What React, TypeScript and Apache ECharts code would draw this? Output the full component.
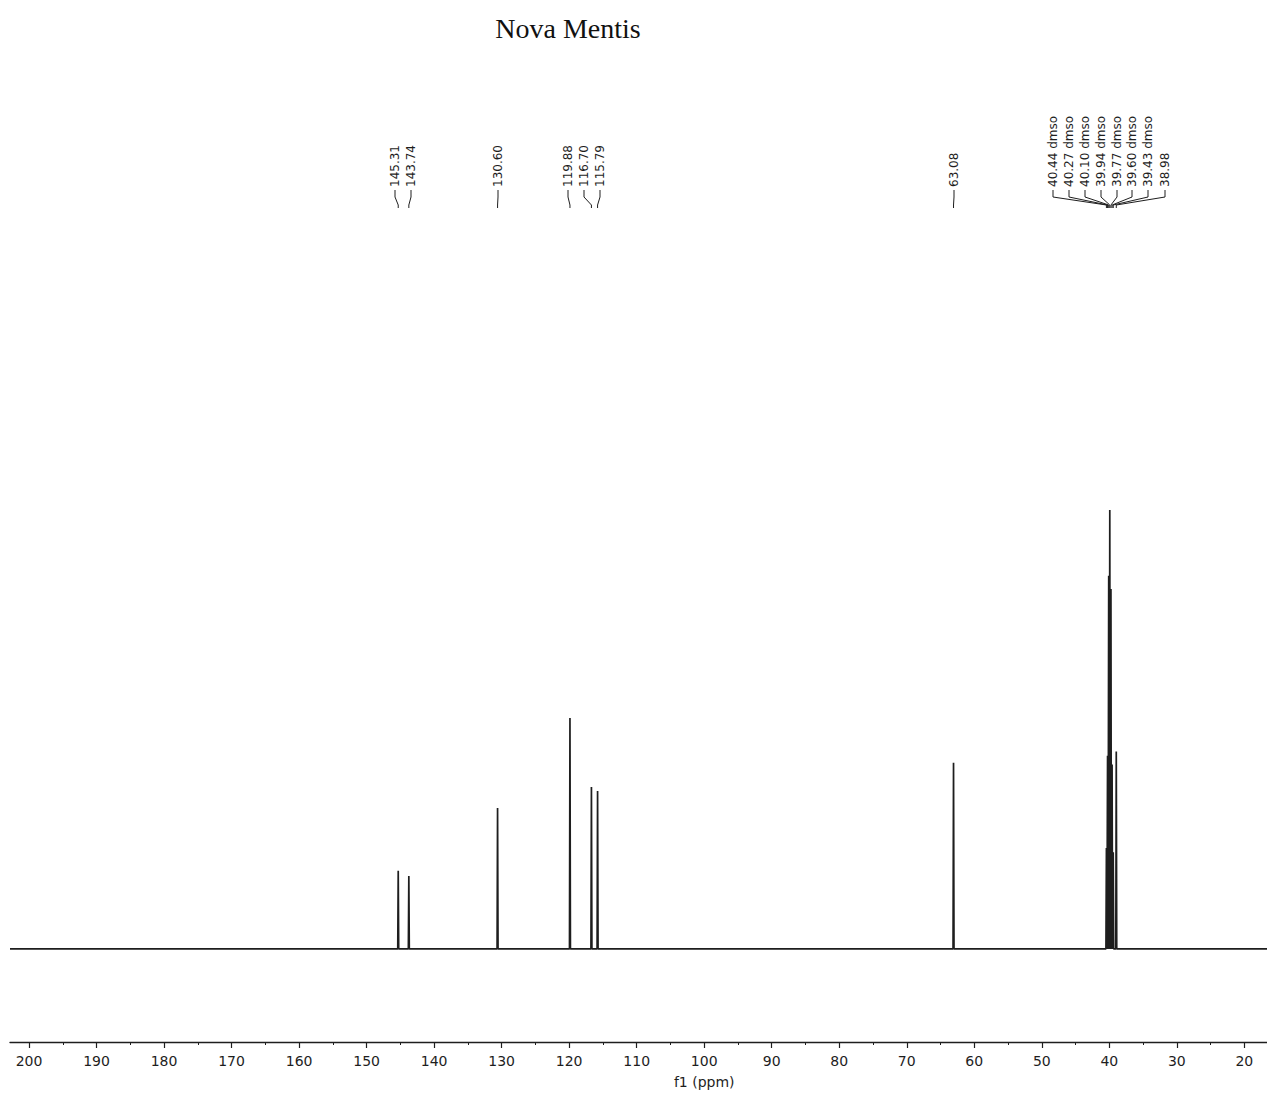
import React, { useEffect, useRef } from "react";
import * as echarts from "echarts";

// ---- data ----
const title = "Nova Mentis";
const axisName = "f1 (ppm)";
const peakShifts = [145.31, 143.74, 130.6, 119.88, 116.7, 115.79, 63.08, 40.44, 40.27, 40.1, 39.94, 39.77, 39.6, 39.43, 38.98];
const peakHeights = [17.8, 16.6, 32.1, 52.6, 36.9, 36.0, 42.4, 23, 44, 85, 100, 82, 42, 22, 45];
const peakLabels = [
  "145.31", "143.74", "130.60", "119.88", "116.70", "115.79", "63.08",
  "40.44 dmso", "40.27 dmso", "40.10 dmso", "39.94 dmso", "39.77 dmso", "39.60 dmso", "39.43 dmso", "38.98",
];
const spectrumRange = [202.8, 16.66]; // ppm span of the recorded trace
const axisMin = 20;
const axisMax = 200;
const axisInterval = 10;

// ---- layout (pixels) ----
const labelX = [395, 411, 498, 568, 584, 600, 954, 1053, 1069, 1085, 1101, 1117, 1132, 1148, 1165];
const W = 1267;
const H = 1098;
const peakHalfWidth = 0.07;

function buildSpectrum(): number[][] {
  const pts: number[][] = [[spectrumRange[0], 0]];
  const order = peakShifts.map((p, i) => i).sort((a, b) => peakShifts[b] - peakShifts[a]);
  for (const i of order) {
    const p = peakShifts[i];
    pts.push([p + peakHalfWidth, 0]);
    pts.push([p, peakHeights[i]]);
    pts.push([p - peakHalfWidth, 0]);
  }
  pts.push([spectrumRange[1], 0]);
  return pts;
}

export default function App() {
  const ref = useRef<HTMLDivElement>(null);
  useEffect(() => {
    if (!ref.current) return;
    const chart = echarts.init(ref.current, undefined, { renderer: "svg" });
    const ink = "#1e1e1e";
    const yCommon = { type: "value", min: -21.2, max: 202.5, show: false, splitLine: { show: false } };
    chart.setOption({
      animation: false,
      backgroundColor: "#ffffff",
      grid: [
        { left: 29, right: 22.64, top: 60, bottom: H - 1042 },
        { left: 10, right: 0, top: 60, bottom: H - 1042 },
      ],
      xAxis: [
        {
          type: "value",
          gridIndex: 0,
          inverse: true,
          min: axisMin,
          max: axisMax,
          interval: axisInterval,
          splitLine: { show: false },
          axisLine: { show: false, onZero: false },
          axisTick: { show: true, length: 6, lineStyle: { color: ink, width: 1.2 } },
          minorTick: { show: true, splitNumber: 2, length: 3, lineStyle: { color: ink, width: 1 } },
          minorSplitLine: { show: false },
          axisLabel: {
            margin: 12,
            fontFamily: "DejaVu Sans",
            fontSize: 14,
            color: ink,
          },
        },
        {
          type: "value",
          gridIndex: 1,
          inverse: true,
          min: spectrumRange[1],
          max: spectrumRange[0],
          splitLine: { show: false },
          axisLine: { show: true, onZero: false, lineStyle: { color: ink, width: 1.4 } },
          axisTick: { show: false },
          axisLabel: { show: false },
        },
      ],
      yAxis: [
        { ...yCommon, gridIndex: 0 },
        { ...yCommon, gridIndex: 1 },
      ],
      series: [
        {
          type: "line",
          xAxisIndex: 1,
          yAxisIndex: 1,
          data: buildSpectrum(),
          showSymbol: false,
          symbol: "none",
          clip: false,
          lineStyle: { color: ink, width: 1.7 },
        },
      ],
    });

    const px = (v: number) => chart.convertToPixel({ xAxisIndex: 1 }, v) as number;
    const graphics: any[] = [];
    graphics.push({
      type: "text",
      x: 568,
      y: 28,
      style: { text: title, font: '28px "Liberation Serif"', fill: "#111", align: "center", verticalAlign: "middle" },
    });
    graphics.push({
      type: "text",
      x: px(100),
      y: 1082,
      style: { text: axisName, font: '14px "DejaVu Sans"', fill: ink, align: "center", verticalAlign: "middle" },
    });
    peakShifts.forEach((p, i) => {
      const lx = labelX[i];
      const pxv = px(p);
      graphics.push({
        type: "text",
        x: lx,
        y: 187,
        rotation: Math.PI / 2,
        style: { text: peakLabels[i], font: '12px "DejaVu Sans"', fill: ink, align: "left", verticalAlign: "middle" },
      });
      graphics.push({
        type: "polyline",
        shape: { points: [[lx, 190], [lx, 197], [pxv, 205], [pxv, 208]] },
        style: { stroke: ink, lineWidth: 1, fill: null },
      });
    });
    chart.setOption({ graphic: graphics });
    return () => chart.dispose();
  }, []);
  return (
    <div
      ref={ref}
      style={{ position: "absolute", left: 0, top: 0, width: W, height: H, background: "#fff" }}
    />
  );
}
